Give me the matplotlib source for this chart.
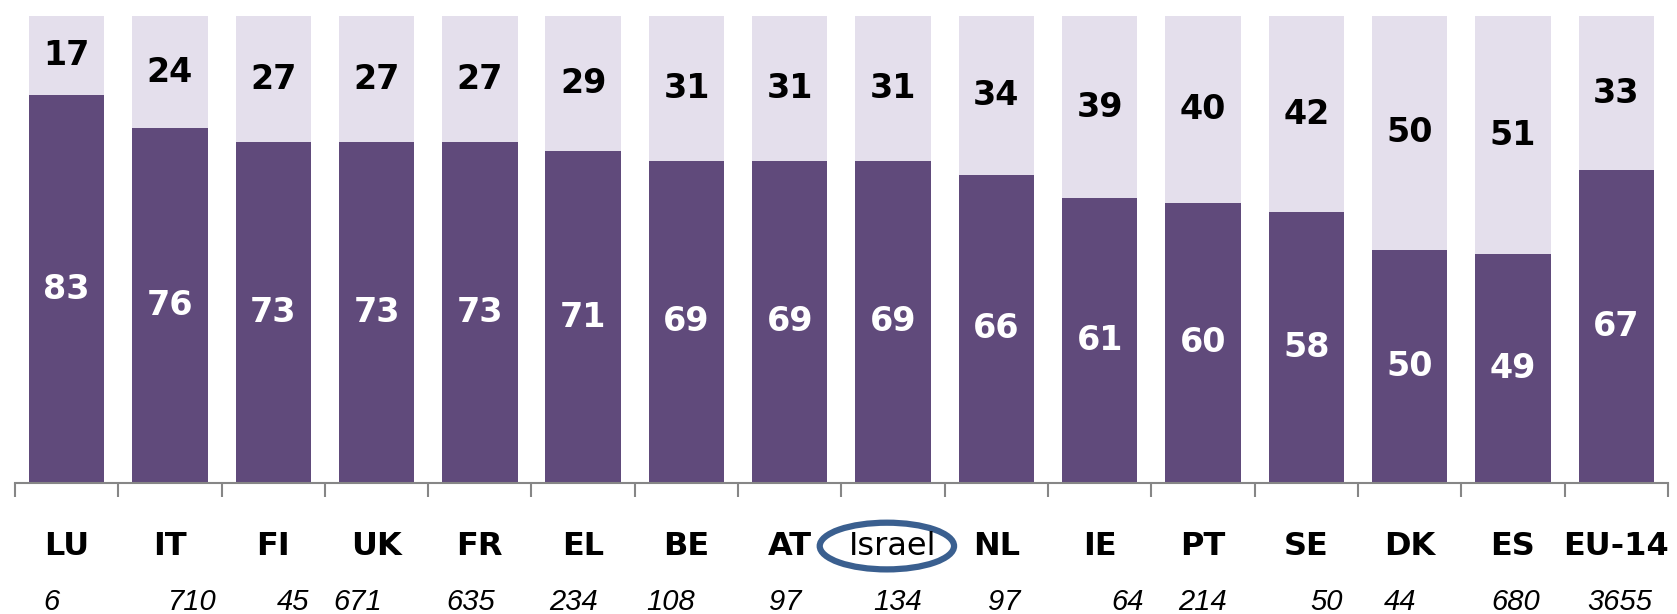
import matplotlib.pyplot as plt
from matplotlib.patches import Ellipse
import numpy as np

countries = ['LU', 'IT', 'FI', 'UK', 'FR', 'EL', 'BE', 'AT', 'Israel', 'NL',
             'IE', 'PT', 'SE', 'DK', 'ES', 'EU-14']
dark_vals = [83, 76, 73, 73, 73, 71, 69, 69, 69, 66, 61, 60, 58, 50, 49, 67]
light_vals = [17, 24, 27, 27, 27, 29, 31, 31, 31, 34, 39, 40, 42, 50, 51, 33]
n_sizes = ['6', '710', '45', '671', '635', '234', '108', '97', '134', '97',
           '64', '214', '50', '44', '680', '3655']

# small horizontal nudges of the sample sizes, as in the original
n_shift = [-0.15, 0.22, 0.19, -0.18, -0.09, -0.09, -0.15, -0.04, 0.04, 0.08,
           0.27, 0.0, 0.2, -0.09, 0.03, 0.03]

dark = '#604A7B'
light = '#E4DFEC'

fig = plt.figure(figsize=(16.77, 6.14), dpi=100)
ax = fig.add_axes([0.0089, 1 - 483 / 614, 0.9857, 467 / 614])

x = np.arange(len(countries))
ax.bar(x, dark_vals, width=0.73, color=dark)
ax.bar(x, light_vals, width=0.73, bottom=dark_vals, color=light)

for i in range(len(countries)):
    ax.text(x[i], dark_vals[i] / 2, str(dark_vals[i]), ha='center', va='center',
            color='white', fontsize=24, fontweight='bold')
    ax.text(x[i], dark_vals[i] + light_vals[i] / 2, str(light_vals[i]),
            ha='center', va='center', color='black', fontsize=24, fontweight='bold')
    ax.text(x[i], -0.135, countries[i], transform=ax.get_xaxis_transform(),
            ha='center', va='center', fontsize=23,
            fontweight='normal' if countries[i] == 'Israel' else 'bold',
            family='DejaVu Sans')
    ax.text(x[i] + n_shift[i], -0.255, n_sizes[i], transform=ax.get_xaxis_transform(),
            ha='center', va='center', fontsize=21, style='italic',
            family='Liberation Sans')

isr = countries.index('Israel')
ax.add_patch(Ellipse((x[isr] - 0.06, -0.135), 1.3, 0.1,
                     transform=ax.get_xaxis_transform(), fill=False,
                     edgecolor='#3A5F8F', linewidth=4.5, clip_on=False))

ax.set_xlim(-0.5, len(countries) - 0.5)
ax.set_ylim(0, 100)
for s in ['top', 'right', 'left']:
    ax.spines[s].set_visible(False)
ax.spines['bottom'].set_color('#868686')
ax.spines['bottom'].set_linewidth(1.5)
ax.set_yticks([])
ax.set_xticks([])
ax.set_xticks(np.arange(-0.5, len(countries)), minor=True)
ax.tick_params(axis='x', which='minor', length=10, width=1.5, color='#868686',
               labelbottom=False)

fig.savefig('out.png')
